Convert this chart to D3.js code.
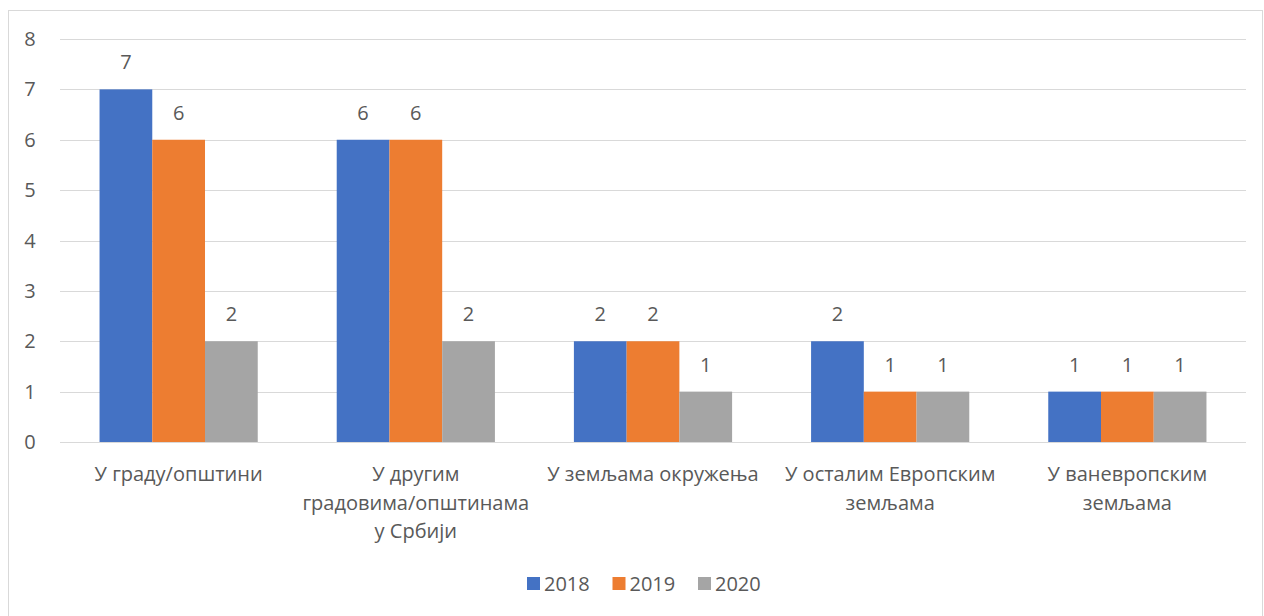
<!DOCTYPE html>
<html>
<head>
<meta charset="utf-8">
<script src="https://cdn.jsdelivr.net/npm/d3@7"></script>
<style>
  body { margin: 0; background: #fff; }
  svg text { font-family: "Open Sans", "Liberation Sans", sans-serif; fill: #595959; }
</style>
</head>
<body>
<svg id="chart" width="1264" height="616"></svg>
<script>
// data
var categories = ["У граду/општини", "У другим\nградовима/општинама\nу Србији", "У земљама окружења", "У осталим Европским\nземљама", "У ваневропским\nземљама"];
var years = ["2018", "2019", "2020"];
var values2018 = [7, 6, 2, 2, 1];
var values2019 = [6, 6, 2, 1, 1];
var values2020 = [2, 2, 1, 1, 1];
var yTicks = [0, 1, 2, 3, 4, 5, 6, 7, 8];
var colors = ["#4472C4", "#ED7D31", "#A5A5A5"];

var series = [values2018, values2019, values2020];

var svg = d3.select("#chart");
var plotLeft = 60, plotRight = 1246, plotTop = 39, plotBottom = 442;

// outer frame
svg.append("rect")
  .attr("x", 8.5).attr("y", 10.5)
  .attr("width", 1254).attr("height", 620)
  .attr("fill", "none").attr("stroke", "#d9d9d9");

var x = d3.scaleBand().domain(d3.range(categories.length))
  .range([plotLeft, plotRight]).paddingInner(0.333).paddingOuter(0.1667);
var xs = d3.scaleBand().domain(d3.range(years.length))
  .range([0, x.bandwidth()]);
var y = d3.scaleLinear().domain([0, 8]).range([plotBottom, plotTop]);

// gridlines
svg.append("g").selectAll("line").data(yTicks).enter().append("line")
  .attr("x1", plotLeft).attr("x2", plotRight)
  .attr("y1", function(d) { return Math.round(y(d)) + 0.5; })
  .attr("y2", function(d) { return Math.round(y(d)) + 0.5; })
  .attr("stroke", "#d9d9d9").attr("stroke-width", 1);

// y labels
svg.append("g").selectAll("text").data(yTicks).enter().append("text")
  .attr("x", 30).attr("y", function(d) { return y(d); })
  .attr("dy", "0.35em").attr("text-anchor", "middle")
  .style("font-size", "20px")
  .text(function(d) { return d; });

// bars
var groups = svg.append("g").selectAll("g").data(categories).enter().append("g")
  .attr("transform", function(d, i) { return "translate(" + x(i) + ",0)"; });

groups.selectAll("rect").data(function(d, i) { return series.map(function(s) { return s[i]; }); })
  .enter().append("rect")
  .attr("x", function(d, j) { return xs(j); })
  .attr("y", function(d) { return y(d); })
  .attr("width", xs.bandwidth())
  .attr("height", function(d) { return y(0) - y(d); })
  .attr("fill", function(d, j) { return colors[j]; });

groups.selectAll("text.val").data(function(d, i) { return series.map(function(s) { return s[i]; }); })
  .enter().append("text").attr("class", "val")
  .attr("x", function(d, j) { return xs(j) + xs.bandwidth() / 2; })
  .attr("y", function(d) { return y(d) - 20; })
  .attr("text-anchor", "middle")
  .style("font-size", "20px")
  .text(function(d) { return d; });

// category labels
groups.append("text")
  .attr("text-anchor", "middle")
  .style("font-size", "20px")
  .each(function(d) {
    var t = d3.select(this);
    d.split("\n").forEach(function(line, k) {
      t.append("tspan").attr("x", x.bandwidth() / 2)
        .attr("y", 481 + k * 28.5).text(line);
    });
  });

// legend
var legend = svg.append("g").selectAll("g").data(years).enter().append("g")
  .attr("transform", function(d, i) { return "translate(" + (527 + i * 85.5) + ",0)"; });
legend.append("rect").attr("x", 0).attr("y", 577).attr("width", 13).attr("height", 13)
  .attr("fill", function(d, i) { return colors[i]; });
legend.append("text").attr("x", 17).attr("y", 591)
  .style("font-size", "20px")
  .text(function(d) { return d; });
</script>
</body>
</html>
